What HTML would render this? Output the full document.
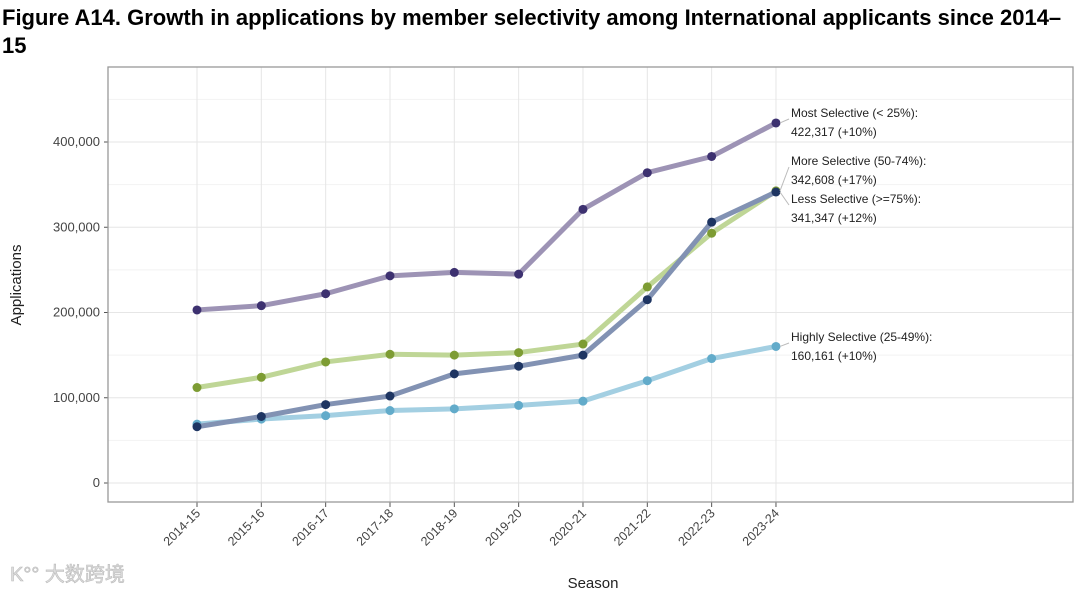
<!DOCTYPE html>
<html><head><meta charset="utf-8"><style>
body{margin:0;background:#fff;width:1080px;height:593px;overflow:hidden;font-family:"Liberation Sans",sans-serif}
.title{position:absolute;left:2px;top:4px;width:1076px;font-weight:bold;font-size:22px;line-height:28px;color:#000;white-space:nowrap}
svg{position:absolute;left:0;top:0}
</style></head><body>
<div class="title">Figure A14. Growth in applications by member selectivity among International applicants since 2014–<br>15</div>
<svg id="c" width="1080" height="593"></svg>
<script>
const seasons=["2014-15","2015-16","2016-17","2017-18","2018-19","2019-20","2020-21","2021-22","2022-23","2023-24"];
const mostSel=[203000,208000,222000,243000,247000,245000,321000,364000,383000,422317];
const moreSel=[112000,124000,142000,151000,150000,153000,163000,230000,293000,342608];
const lessSel=[66000,78000,92000,102000,128000,137000,150000,215000,306000,341347];
const highSel=[69000,75000,79000,85000,87000,91000,96000,120000,146000,160161];
const yTicks=[0,100000,200000,300000,400000];
const endLabels=[["Most Selective (< 25%):","422,317 (+10%)"],["More Selective (50-74%):","342,608 (+17%)"],["Less Selective (>=75%):","341,347 (+12%)"],["Highly Selective (25-49%):","160,161 (+10%)"]];
const NS="http://www.w3.org/2000/svg",svg=document.getElementById('c');
const X=i=>197+i*64.33, Y=v=>483-v*0.0008525;
function el(t,a,p){const e=document.createElementNS(NS,t);for(const k in a)e.setAttribute(k,a[k]);(p||svg).appendChild(e);return e;}
const L=108,T=67,R=1073,B=502;
for(let v=50000;v<=450000;v+=100000){const g=el('line',{x1:L,x2:R,y1:Y(v),y2:Y(v),stroke:'#f2f2f2','stroke-width':1});}
yTicks.forEach(v=>{const g=el('line',{x1:L,x2:R,y1:Y(v),y2:Y(v),stroke:'#e6e6e6','stroke-width':1});
const tk=el('line',{x1:L-4,x2:L,y1:Y(v),y2:Y(v),stroke:'#555'});
const t=el('text',{x:L-8,y:Y(v)+4,'text-anchor':'end','font-size':13,fill:'#444'});t.textContent=v.toLocaleString('en-US');});
seasons.forEach((s,i)=>{const g=el('line',{x1:X(i),x2:X(i),y1:T,y2:B,stroke:'#e6e6e6'});
const tk=el('line',{x1:X(i),x2:X(i),y1:B,y2:B+5,stroke:'#555'});
const t=el('text',{x:X(i)+4,y:B+12,'text-anchor':'end','font-size':12.5,fill:'#444',transform:`rotate(-45 ${X(i)+4} ${B+12})`});t.textContent=s;});
const fr=el('rect',{x:L,y:T,width:R-L,height:B-T,fill:'none',stroke:'#999','stroke-width':1.3});
const series=[[mostSel,'#9d93b5','#3d3170','most-selective'],[highSel,'#a3cfe2','#62abca','highly-selective'],[moreSel,'#bfd696','#7d9c33','more-selective'],[lessSel,'#8292b3','#1e3562','less-selective']];
series.forEach(([d,lc,pc,n])=>{const p=el('polyline',{points:d.map((v,i)=>X(i)+','+Y(v)).join(' '),fill:'none',stroke:lc,'stroke-width':5,'stroke-linejoin':'round'});
d.forEach((v,i)=>{const c=el('circle',{cx:X(i),cy:Y(v),r:4.5,fill:pc});});});
const ly=[113,161,199,337];const lastVals=[mostSel[9],moreSel[9],lessSel[9],highSel[9]];
endLabels.forEach((lb,k)=>{const ln=el('line',{x1:X(9)+4,y1:Y(lastVals[k]),x2:789,y2:ly[k]+6,stroke:'#bbb'});
lb.forEach((s,j)=>{const t=el('text',{x:791,y:ly[k]+4+j*19,'font-size':12,fill:'#222'});t.textContent=s;});});
const yt=el('text',{x:21,y:285,'text-anchor':'middle','font-size':15,fill:'#222',transform:'rotate(-90 21 285)'});yt.textContent='Applications';
const xt=el('text',{x:593,y:588,'text-anchor':'middle','font-size':15,fill:'#222'});xt.textContent='Season';
const wm=el('text',{x:10,y:581,'font-size':20,fill:'#ddd',stroke:'#bbb','stroke-width':0.6,'font-family':'"Liberation Sans","Noto Sans CJK SC",sans-serif'});wm.textContent='K°° 大数跨境';
</script>
</body></html>
